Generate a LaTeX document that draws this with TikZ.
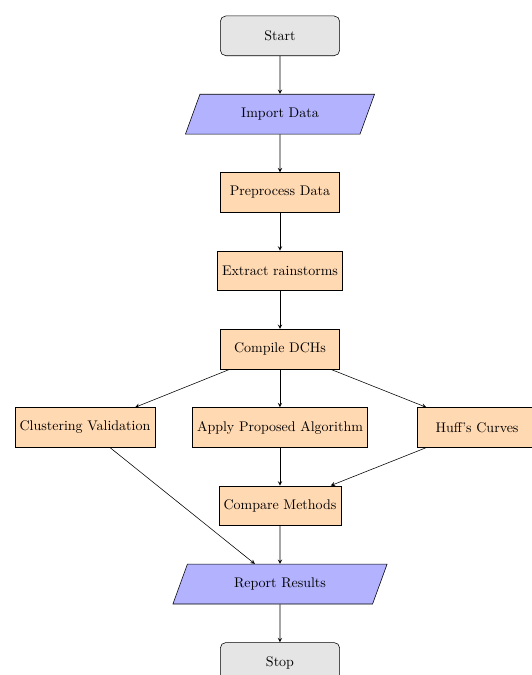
\documentclass[tikz,border=0pt]{standalone}
\usetikzlibrary{shapes.geometric,arrows}
\tikzset{
  startstop/.style={rectangle, rounded corners, minimum width=3cm, minimum height=1cm, text centered, draw=black, fill=gray!20},
  io/.style={trapezium, trapezium left angle=70, trapezium right angle=110, minimum width=3cm, minimum height=1cm, text centered, draw=black, fill=blue!30},
  process/.style={rectangle, minimum width=3cm, minimum height=1cm, text centered, draw=black, fill=orange!30},
  arrow/.style={->, >=stealth}
}
\begin{document}
\begin{tikzpicture}
\useasboundingbox (-7.035,0.9) rectangle (6.33,-16.06);
\node[startstop] (start) at (0,0) {Start};
\node[io] (import) at (0,-1.968) {Import Data};
\node[process] (pre) at (0,-3.936) {Preprocess Data};
\node[process] (extract) at (0,-5.904) {Extract rainstorms};
\node[process] (compile) at (0,-7.872) {Compile DCHs};
\node[process] (cluster) at (-4.9,-9.84) {Clustering Validation};
\node[process] (apply) at (0,-9.84) {Apply Proposed Algorithm};
\node[process] (huff) at (4.95,-9.84) {Huff's Curves};
\node[process] (compare) at (0,-11.808) {Compare Methods};
\node[io] (report) at (0,-13.776) {Report Results};
\node[startstop] (stop) at (0,-15.744) {Stop};
\draw[arrow] (start) -- (import);
\draw[arrow] (import) -- (pre);
\draw[arrow] (pre) -- (extract);
\draw[arrow] (extract) -- (compile);
\draw[arrow] (compile) -- (cluster);
\draw[arrow] (compile) -- (apply);
\draw[arrow] (compile) -- (huff);
\draw[arrow] (apply) -- (compare);
\draw[arrow] (huff) -- (compare);
\draw[arrow] (cluster) -- (report);
\draw[arrow] (compare) -- (report);
\draw[arrow] (report) -- (stop);
\end{tikzpicture}
\end{document}
